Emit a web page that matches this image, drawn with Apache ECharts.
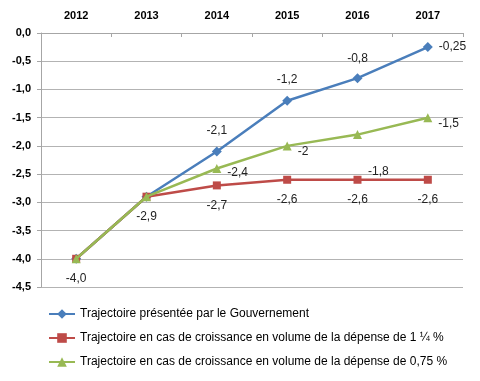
<!DOCTYPE html>
<html><head><meta charset="utf-8">
<script src="https://cdn.jsdelivr.net/npm/echarts@6/dist/echarts.min.js"></script>
<style>html,body{margin:0;padding:0;background:#fff}#c{width:480px;height:381px}</style>
</head><body><div id="c"></div>
<script>
const years = ['2012','2013','2014','2015','2016','2017'];
const gouvernement = [-4.0, -2.9, -2.1, -1.2, -0.8, -0.25];
const croissance125 = [-4.0, -2.9, -2.7, -2.6, -2.6, -2.6];
const croissance075 = [-4.0, -2.9, -2.4, -2.0, -1.8, -1.5];
const seriesNames = [
  'Trajectoire présentée par le Gouvernement',
  'Trajectoire en cas de croissance en volume de la dépense de 1 ¼ %',
  'Trajectoire en cas de croissance en volume de la dépense de 0,75 %'
];
const fmt = v => String(v).replace('.', ',');
const fmt1 = v => v.toFixed(1).replace('.', ',');
const FONT = 'Liberation Sans';
const lbl = {fontFamily: FONT, fontSize: 12, color: '#222'};

function pts(arr, cfg) {
  return arr.map((v, i) => {
    const c = cfg[i];
    if (!c) return {value: v, label: {show: false}};
    return {value: v, label: Object.assign({show: true, formatter: c.txt || (p => fmt(p.value))}, lbl, c.opt)};
  });
}

const chart = echarts.init(document.getElementById('c'), null, {renderer: 'canvas'});
chart.setOption({
  animation: false,
  textStyle: {fontFamily: FONT},
  grid: {left: 41, right: 17, top: 33, bottom: 94},
  xAxis: {
    type: 'category', position: 'top', data: years, boundaryGap: true,
    axisLine: {lineStyle: {color: '#a6a6a6'}},
    axisTick: {show: true, inside: true, length: 4, lineStyle: {color: '#a6a6a6'}},
    axisLabel: {fontFamily: FONT, fontSize: 11, fontWeight: 'bold', color: '#000', margin: 12}
  },
  yAxis: {
    type: 'value', min: -4.5, max: 0, interval: 0.5,
    axisLine: {show: true, lineStyle: {color: '#a6a6a6'}},
    axisTick: {show: true, length: 4, lineStyle: {color: '#a6a6a6'}},
    splitLine: {lineStyle: {color: '#b3b3b3'}},
    axisLabel: {fontFamily: FONT, fontSize: 11, fontWeight: 'bold', color: '#000', formatter: fmt1, margin: 10}
  },
  legend: {
    orient: 'vertical', left: 43, top: 303, itemGap: 12, itemWidth: 26, itemHeight: 12,
    textStyle: {fontFamily: FONT, fontSize: 12, color: '#000'},
    data: seriesNames
  },
  series: [
    {
      name: seriesNames[0], type: 'line', data: pts(gouvernement, [null, null,
        {opt: {position: 'top', distance: 10}},
        {opt: {position: 'top', distance: 10}},
        {opt: {position: 'top', distance: 8}},
        {opt: {position: 'right', distance: 6}}]),
      symbol: 'diamond', symbolSize: 10,
      lineStyle: {color: '#4a7ebb', width: 2.5}, itemStyle: {color: '#4a7ebb'}, z: 2
    },
    {
      name: seriesNames[1], type: 'line', data: pts(croissance125, [
        {txt: p => fmt1(p.value), opt: {position: 'bottom', distance: 10}},
        {opt: {position: 'bottom', distance: 10}},
        {opt: {position: 'bottom', distance: 10}},
        {opt: {position: 'bottom', distance: 10}},
        {opt: {position: 'bottom', distance: 10}},
        {opt: {position: 'bottom', distance: 10}}]),
      symbol: 'rect', symbolSize: 8,
      lineStyle: {color: '#be4b48', width: 2.5}, itemStyle: {color: '#be4b48'}, z: 3
    },
    {
      name: seriesNames[2], type: 'line', data: pts(croissance075, [null, null,
        {opt: {position: 'right', distance: 6, offset: [0, 4]}},
        {opt: {position: 'right', distance: 6, offset: [0, 6]}},
        {opt: {position: 'right', distance: 6, offset: [0, 37]}},
        {opt: {position: 'right', distance: 6, offset: [0, 6]}}]),
      symbol: 'triangle', symbolSize: 9,
      lineStyle: {color: '#98b954', width: 2.5}, itemStyle: {color: '#98b954'}, z: 4
    }
  ]
});
</script></body></html>
